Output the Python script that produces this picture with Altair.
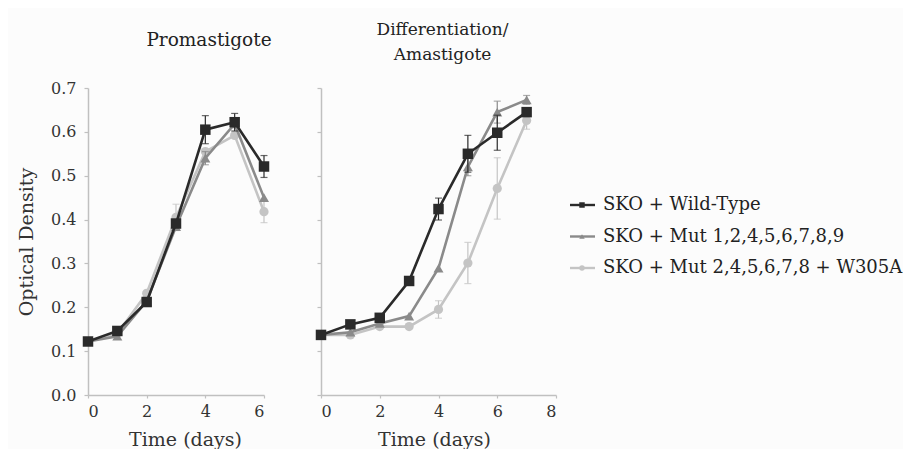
import altair as alt
import pandas as pd

FONT = "DejaVu Serif"

series_names = ["SKO + Wild-Type", "SKO + Mut 1,2,4,5,6,7,8,9", "SKO + Mut 2,4,5,6,7,8 + W305A"]
series_colors = ["#2a2a2a", "#8a8a8a", "#c4c4c4"]
series_shapes = ["square", "triangle-up", "circle"]
series_sizes = [110, 100, 85]

# Promastigote panel
pro_days = [0, 1, 2, 3, 4, 5, 6]
pro_wt = [0.122, 0.146, 0.212, 0.391, 0.605, 0.622, 0.521]
pro_wt_err = [0.0, 0.0, 0.0, 0.0, 0.032, 0.02, 0.025]
pro_mut = [0.122, 0.134, 0.214, 0.384, 0.54, 0.618, 0.45]
pro_mut_err = [0.0, 0.0, 0.0, 0.0, 0.015, 0.0, 0.0]
pro_w = [0.122, 0.14, 0.232, 0.405, 0.555, 0.592, 0.418]
pro_w_err = [0.0, 0.0, 0.0, 0.03, 0.0, 0.0, 0.025]

# Differentiation / Amastigote panel
ama_days = [0, 1, 2, 3, 4, 5, 6, 7]
ama_wt = [0.137, 0.161, 0.176, 0.26, 0.424, 0.55, 0.598, 0.645]
ama_wt_err = [0.0, 0.0, 0.0, 0.0, 0.025, 0.042, 0.04, 0.0]
ama_mut = [0.137, 0.143, 0.163, 0.18, 0.289, 0.52, 0.645, 0.673]
ama_mut_err = [0.0, 0.0, 0.0, 0.0, 0.0, 0.02, 0.025, 0.01]
ama_w = [0.137, 0.137, 0.156, 0.156, 0.195, 0.301, 0.471, 0.626]
ama_w_err = [0.0, 0.0, 0.0, 0.0, 0.02, 0.047, 0.07, 0.02]


def frame(days, vals, errs, name):
    df = pd.DataFrame({"day": days, "od": vals, "err": errs})
    df["lo"] = df["od"] - df["err"]
    df["hi"] = df["od"] + df["err"]
    df["series"] = name
    return df


pro = [frame(pro_days, pro_wt, pro_wt_err, series_names[0]),
       frame(pro_days, pro_mut, pro_mut_err, series_names[1]),
       frame(pro_days, pro_w, pro_w_err, series_names[2])]
ama = [frame(ama_days, ama_wt, ama_wt_err, series_names[0]),
       frame(ama_days, ama_mut, ama_mut_err, series_names[1]),
       frame(ama_days, ama_w, ama_w_err, series_names[2])]


def panel(dfs, xmax, xticks, show_y_labels, title_x):
    xs = alt.Scale(domain=[0, xmax], nice=False)
    ys = alt.Scale(domain=[0, 0.7], nice=False)
    xax = alt.Axis(values=xticks, title="Time (days)", ticks=True, tickSize=3, grid=False,
                   labelPadding=5, titlePadding=11, titleX=title_x)
    if show_y_labels:
        yax = alt.Axis(values=[0, 0.1, 0.2, 0.3, 0.4, 0.5, 0.6, 0.7], format=".1f",
                       title="Optical Density", grid=False, tickSize=4,
                       labelPadding=8, titlePadding=14)
    else:
        yax = alt.Axis(values=[0, 0.1, 0.2, 0.3, 0.4, 0.5, 0.6, 0.7], labels=False,
                       title=None, grid=False, tickSize=4)
    layers = []
    for i in [2, 1, 0]:
        df = dfs[i]
        col = series_colors[i]
        base = alt.Chart(df)
        line = base.mark_line(color=col, strokeWidth=2.6).encode(
            x=alt.X("day:Q", scale=xs, axis=xax),
            y=alt.Y("od:Q", scale=ys, axis=yax),
        )
        eb = base.transform_filter("datum.err > 0")
        rule = eb.mark_rule(color=col, strokeWidth=1.2).encode(
            x="day:Q", y="lo:Q", y2="hi:Q")
        cap_hi = eb.mark_tick(color=col, orient="horizontal", size=7, thickness=1.2).encode(
            x="day:Q", y="hi:Q")
        cap_lo = eb.mark_tick(color=col, orient="horizontal", size=7, thickness=1.2).encode(
            x="day:Q", y="lo:Q")
        pts = base.mark_point(color=col, filled=True, opacity=1,
                              shape=series_shapes[i], size=series_sizes[i]).encode(
            x="day:Q", y="od:Q")
        layers += [line, rule, cap_hi, cap_lo, pts]
    return alt.layer(*layers)


# legend built from the series lists, drawn to the right of the second panel
leg_df = pd.DataFrame({"series": series_names})
ly = alt.Y("series:N",
           scale=alt.Scale(type="point", domain=series_names, range=[117, 180], padding=0),
           axis=None)
lbase = alt.Chart(leg_df)
leg_layers = []
for i in range(3):
    sub = lbase.transform_filter(alt.datum.series == series_names[i])
    leg_layers.append(sub.mark_rule(color=series_colors[i], strokeWidth=2.4).encode(
        x=alt.value(249), x2=alt.value(274), y=ly))
    leg_layers.append(sub.mark_point(color=series_colors[i], filled=True, opacity=1,
                                     shape=series_shapes[i], size=30).encode(
        x=alt.value(261), y=ly))
leg_text = lbase.mark_text(align="left", baseline="middle", font=FONT, fontSize=18,
                           color="#222222", limit=305, ellipsis="").encode(
    x=alt.value(282), y=ly, text="series:N")
legend = alt.layer(*leg_layers, leg_text)

left = panel(pro, 6, [0, 2, 4, 6], True, 97).properties(
    width=176, height=307,
    title=alt.TitleParams("Promastigote", fontSize=18.5, font=FONT, fontWeight="normal",
                          color="#222222", offset=31, dx=33, anchor="middle", frame="group"))
right_plot = panel(ama, 8, [0, 2, 4, 6, 8], False, 113)
right = alt.layer(right_plot, legend).resolve_scale(y="independent").properties(
    width=235, height=307,
    title=alt.TitleParams(["Differentiation/", "Amastigote"], fontSize=17, font=FONT,
                          fontWeight="normal", color="#222222", offset=23, lineHeight=25,
                          dx=4, anchor="middle", frame="group"))

chart = alt.hconcat(left, right, spacing=43).properties(
    padding={"left": 9, "top": 13, "right": 0, "bottom": 0},
    background="#fcfcfc",
).configure_view(stroke=None).configure_axis(
    domainColor="#c0c0c0", domainWidth=1.5, tickColor="#c0c0c0", tickWidth=1.2,
    labelFont=FONT, labelFontSize=16, labelColor="#333333",
    titleFont=FONT, titleFontSize=19, titleColor="#333333", titleFontWeight="normal",
)

chart.save("out.html", embed_options={"renderer": "svg", "actions": False})
